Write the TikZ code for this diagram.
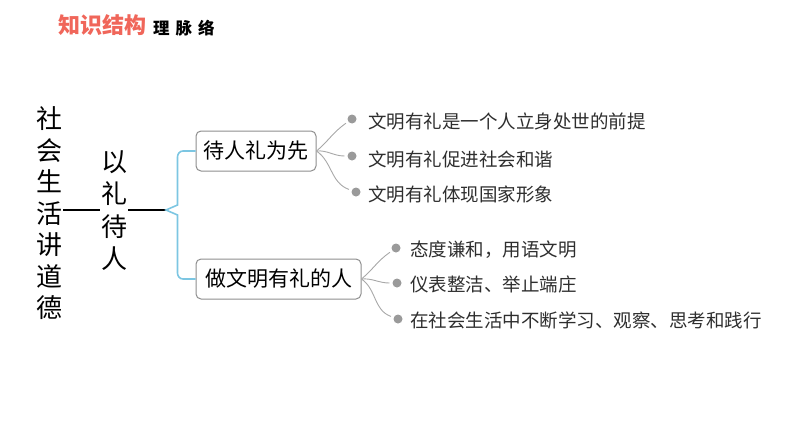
\documentclass[tikz,border=0pt]{standalone}
\usepackage{fontspec}
\newfontfamily\cjk{Noto Sans CJK SC}
\definecolor{titlered}{HTML}{F0665A}
\definecolor{braceblue}{HTML}{7CC6E2}
\definecolor{boxgray}{HTML}{8E8E8E}
\definecolor{branchgray}{HTML}{A8A8A8}
\definecolor{dotgray}{HTML}{9A9A9A}
\definecolor{txtgray}{HTML}{2E2E2E}
\begin{document}
\begin{tikzpicture}[x=1pt,y=-1pt,
  vcol/.style={align=center, inner sep=1pt, text width=26pt, font={\cjk\fontsize{26}{31.5}\selectfont}},
  vcolb/.style={align=center, inner sep=1pt, text width=26pt, font={\cjk\fontsize{26}{32.3}\selectfont}},
  topic/.style={draw=boxgray, line width=1pt, rounded corners=5pt, minimum height=40pt, inner sep=0pt, font={\cjk\fontsize{21}{24}\selectfont}},
  item/.style={anchor=base west, inner sep=0pt, text=txtgray, font={\cjk\fontsize{18.5}{22}\selectfont}},
  dot/.style={circle, fill=dotgray, minimum size=9pt, inner sep=0pt, outer sep=3pt},
  branch/.style={draw=branchgray, line width=0.9pt},
  link/.style={draw=black, line width=1.1pt},
  bracket/.style={draw=braceblue, line width=1.6pt}
]
\useasboundingbox (0,0) rectangle (794,447);

% title
\node[anchor=base west, inner sep=0pt, text=titlered, font={\cjk\bfseries\fontsize{22}{24}\selectfont}] (title) at (58,33) {知识结构};
\node[anchor=base west, inner sep=0pt, font={\cjk\bfseries\fontsize{16.5}{18}\selectfont}] (subtitle) at (153,34) {理\hspace{6pt}脉\hspace{6pt}络};

% vertical columns
\node[vcol] (col1) at (49,213.5) {社\\会\\生\\活\\讲\\道\\德};
\node[vcolb] (col2) at (114,210.5) {以\\礼\\待\\人};
\coordinate (bp) at (166,210);

% topic boxes
\node[topic, minimum width=120pt] (box1) at (256,151) {待人礼为先};
\node[topic, minimum width=165pt] (box2) at (278.5,279) {做文明有礼的人};

% connectors
\draw[link] (col1.east |- bp) -- (col2.west |- bp);
\draw[link] (col2.east |- bp) -- (bp);
\draw[bracket] (box1.west) -- (183,151) to[out=180,in=90] (177.5,157) -- (177.5,205) -- (bp) -- (177.5,215) -- (177.5,273) to[out=-90,in=180] (183,279) -- (box2.west);

% bullets box1
\node[dot] (d1) at (352,119) {};
\node[dot] (d2) at (352,156) {};
\node[dot] (d3) at (356,192) {};
\draw[branch] (box1.east) to[out=40,in=215] (d1);
\draw[branch] (box1.east) to[out=5,in=180] (d2);
\draw[branch] (box1.east) to[out=-35,in=160] (d3);

% bullets box2
\node[dot] (e1) at (396,248) {};
\node[dot] (e2) at (397,283) {};
\node[dot] (e3) at (398,319) {};
\draw[branch] (box2.east) to[out=40,in=215] (e1);
\draw[branch] (box2.east) to[out=5,in=180] (e2);
\draw[branch] (box2.east) to[out=-35,in=160] (e3);

% item texts
\node[item] (t1) at (368,128) {文明有礼是一个人立身处世的前提};
\node[item] (t2) at (368,166) {文明有礼促进社会和谐};
\node[item] (t3) at (368,201) {文明有礼体现国家形象};
\node[item] (u1) at (410,256) {态度谦和，用语文明};
\node[item] (u2) at (410,291) {仪表整洁、举止端庄};
\node[item] (u3) at (410,327) {在社会生活中不断学习、观察、思考和践行};
\end{tikzpicture}
\end{document}
